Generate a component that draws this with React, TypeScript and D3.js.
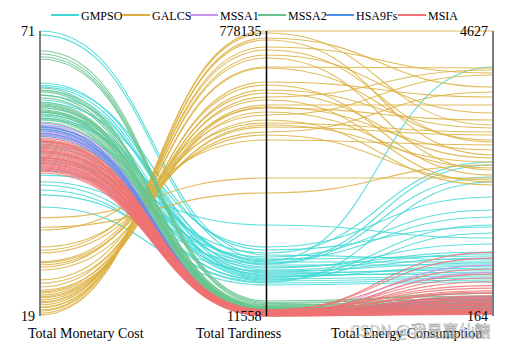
import React, { useEffect, useRef } from 'react';
import * as d3 from 'd3';

// axes of the parallel plot
const dimensions = ['Total Monetary Cost', 'Total Tardiness', 'Total Energy Consumption'];
const costRange = [19, 71];
const tardinessRange = [11558, 778135];
const energyRange = [164, 4627];

// each row: [monetary cost, tardiness, energy consumption]
const GMPSO = [
    [71.0, 175632, 1041], [70.3, 164873, 1104], [61.5, 148735, 963], [61.1, 189081, 1558],
    [60.8, 135286, 1135], [60.2, 127217, 884], [59.3, 156804, 1010], [57.9, 197150, 2028],
    [57.0, 121837, 822], [56.2, 143355, 1166], [55.7, 116458, 947], [54.8, 159494, 4063],
    [53.3, 129907, 1072], [52.0, 111078, 790], [50.7, 181012, 2576], [49.7, 124527, 916],
    [48.7, 140666, 1292], [47.8, 105699, 759], [47.1, 170253, 1824], [44.7, 256324, 1385],
    [43.5, 151424, 2341], [42.9, 100319, 728], [41.1, 132596, 994], [38.9, 94940, 696],
    [58.4, 119148, 853], [55.1, 162183, 1714], [53.9, 113768, 1589], [50.2, 154114, 2529],
    [45.6, 108389, 1464], [42.0, 103009, 2262],
];

const GALCS = [
    [36.9, 382742, 2325], [35.2, 342396, 2529], [34.7, 484952, 2842], [31.6, 498401, 2294],
    [31.0, 530678, 3045], [30.5, 506470, 3672], [28.9, 552196, 3938], [28.7, 519919, 2998],
    [28.3, 538747, 2215], [27.9, 571024, 3233], [27.4, 525298, 2576], [25.6, 592542, 2262],
    [25.0, 560265, 2482], [24.3, 611370, 2638], [23.7, 579093, 3468], [23.4, 632888, 2372],
    [23.2, 573714, 2764], [22.8, 600611, 4016], [22.5, 640957, 3594], [22.3, 619439, 3108],
    [21.9, 681303, 4048], [21.6, 678614, 2920], [21.4, 705511, 2450], [21.0, 727029, 2889],
    [20.6, 713580, 3343], [20.5, 735098, 3969], [20.1, 753926, 2685], [19.5, 759306, 3750],
    [19.2, 778135, 4627], [19.9, 772754, 3155],
];

const MSSA1 = [
    [54.2, 17000, 960], [53.8, 15000, 850], [53.4, 19000, 380], [53.0, 13000, 230],
    [52.6, 16000, 300], [52.2, 21000, 450], [52.0, 14000, 260], [47.5, 12500, 220],
    [46.8, 15500, 330], [46.0, 18000, 410], [53.6, 12200, 200], [52.4, 20000, 520],
];

const MSSA2 = [
    [67.4, 52000, 480], [66.8, 48000, 430], [66.3, 45000, 520], [65.9, 42000, 390],
    [60.6, 38000, 350], [60.2, 40000, 450], [59.9, 35000, 300], [59.3, 33000, 410],
    [58.8, 31000, 280], [58.0, 29000, 360], [57.7, 36000, 330], [57.3, 27000, 250],
    [57.0, 30000, 380], [56.6, 25000, 240], [56.2, 28000, 310], [55.9, 24000, 270],
    [55.5, 26000, 340], [55.1, 22000, 220], [54.8, 23000, 290], [54.4, 21000, 260],
    [57.5, 32000, 370], [56.4, 34000, 320],
];

const HSA9Fs = [
    [53.1, 14500, 320], [52.8, 17500, 420], [52.3, 13200, 280], [51.8, 16500, 360],
    [53.5, 19500, 470],
];

const MSIA = [
    [51.5, 24500, 1160], [51.2, 21000, 420], [51.0, 18500, 350], [50.8, 27000, 1070],
    [50.6, 16000, 300], [50.4, 22500, 560], [50.2, 13500, 260], [50.0, 19500, 480],
    [49.8, 25500, 640], [49.6, 15000, 230], [49.4, 17500, 390], [49.2, 12500, 210],
    [49.0, 20500, 700], [48.8, 14000, 330], [48.6, 23500, 520], [48.4, 16500, 280],
    [48.2, 12000, 200], [48.0, 18000, 440], [47.8, 21500, 760], [47.6, 13000, 250],
    [47.4, 15500, 360], [47.2, 26000, 600], [47.0, 14500, 310], [46.8, 19000, 460],
    [46.6, 11800, 190], [46.4, 17000, 400], [46.2, 22000, 820], [46.0, 13800, 270],
    [45.8, 16200, 340], [45.6, 20000, 540], [45.4, 12800, 220], [45.1, 18800, 380],
    [50.9, 14800, 240], [49.1, 28500, 900], [47.9, 11900, 205],
];

const seriesNames = ['GMPSO', 'GALCS', 'MSSA1', 'MSSA2', 'HSA9Fs', 'MSIA'];
const seriesData = [GMPSO, GALCS, MSSA1, MSSA2, HSA9Fs, MSIA];
const seriesColors = ['#3fd8d6', '#dcb03e', '#c495e8', '#68c48e', '#4d8fe6', '#f07272'];

const width = 521;
const height = 352;
const font = 'Liberation Serif, Times New Roman, DejaVu Serif, serif';

const App: React.FC = () => {
    const svgRef = useRef<SVGSVGElement | null>(null);

    useEffect(() => {
        const svg = d3.select(svgRef.current);
        svg.selectAll('*').remove();

        const top = 31;
        const bottom = 316;

        const xScale = d3.scalePoint<string>()
            .domain(dimensions)
            .range([40, 493]);

        const yScales = [
            d3.scaleLinear().domain(costRange).range([bottom, top]),
            d3.scaleLinear().domain(tardinessRange).range([bottom, top]),
            d3.scaleLinear().domain(energyRange).range([bottom, top]),
        ];

        const line = d3.line<number[]>()
            .x((_, i) => xScale(dimensions[i])!)
            .y((d, i) => yScales[i](d[0]))
            .curve(d3.curveBumpX);

        // lines, drawn series by series like the legend order
        const lines = svg.append('g');
        seriesData.forEach((rows, s) => {
            lines.append('g')
                .selectAll('path')
                .data(rows)
                .enter()
                .append('path')
                .attr('d', (row) => line(row.map((v) => [v]))!)
                .attr('fill', 'none')
                .attr('stroke', seriesColors[s])
                .attr('stroke-width', 1.1)
                .attr('stroke-opacity', 0.85);
        });

        // axes
        const axisColors = ['#7a7a7a', '#000', '#7a7a7a'];
        const axisWidths = [2, 1.5, 2];
        const ranges = [costRange, tardinessRange, energyRange];
        dimensions.forEach((dim, i) => {
            const x = xScale(dim)!;
            svg.append('line')
                .attr('x1', x).attr('x2', x)
                .attr('y1', top).attr('y2', bottom)
                .attr('stroke', axisColors[i])
                .attr('stroke-width', axisWidths[i]);

            ranges[i].forEach((v) => {
                svg.append('text')
                    .attr('x', x - 5)
                    .attr('y', yScales[i](v) + 5)
                    .attr('text-anchor', 'end')
                    .style('font-family', font)
                    .style('font-size', '14px')
                    .attr('fill', '#000')
                    .text(String(v));
            });
        });

        // axis names below
        const nameX = [28, 196, 331];
        dimensions.forEach((dim, i) => {
            svg.append('text')
                .attr('x', nameX[i])
                .attr('y', 338)
                .style('font-family', font)
                .style('font-size', '14px')
                .attr('fill', '#000')
                .text(dim);
        });

        // legend
        const legendX = [51, 122, 190, 258, 326, 398];
        seriesNames.forEach((name, i) => {
            const g = svg.append('g').attr('transform', `translate(${legendX[i]},15)`);
            g.append('line')
                .attr('x1', 0).attr('x2', 28)
                .attr('y1', 0).attr('y2', 0)
                .attr('stroke', seriesColors[i])
                .attr('stroke-width', 2);
            g.append('text')
                .attr('x', 30)
                .attr('y', 4.5)
                .style('font-family', font)
                .style('font-size', '12px')
                .attr('fill', '#000')
                .text(name);
        });

        // watermark
        svg.append('text')
            .attr('x', 350)
            .attr('y', 337)
            .style('font-family', 'Noto Sans CJK SC, sans-serif')
            .style('font-size', '16px')
            .attr('fill', '#ffffff')
            .attr('fill-opacity', 0.5)
            .attr('stroke', '#777')
            .attr('stroke-width', 0.6)
            .attr('stroke-opacity', 0.7)
            .text('CSDN @我是嘉仙糖');
    }, []);

    return (
        <svg
            ref={svgRef}
            width={width}
            height={height}
            style={{ position: 'absolute', left: 0, top: 0, background: '#fff' }}
        />
    );
};

export default App;
